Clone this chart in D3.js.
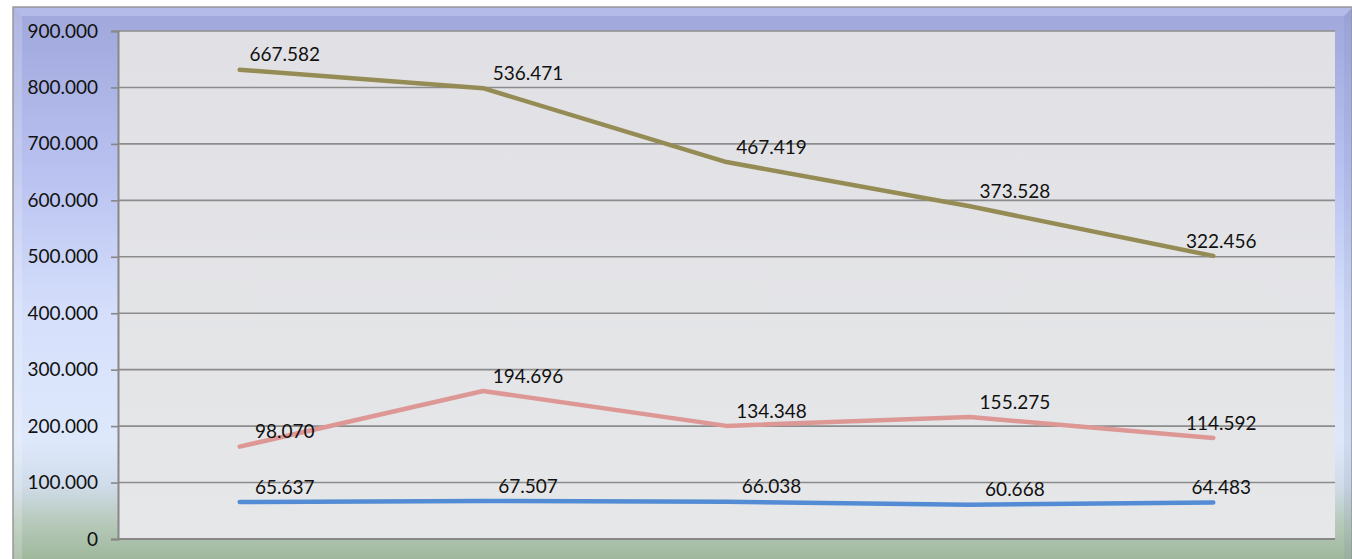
<!doctype html>
<html lang="en">

<head>
    <meta charset="UTF-8" />
    <title>Stacked Line</title>
    <script src="https://d3js.org/d3.v7.min.js"></script>
    <style>
        body,
        html {
            margin: 0;
            padding: 0;
            background: #ffffff;
            overflow: hidden;
        }

        svg {
            display: block;
        }

        text {
            font-family: Lato, "Open Sans", sans-serif;
            font-size: 19px;
            fill: #111;
        }
    </style>
</head>

<body>
    <svg id="chart" width="1352" height="559"></svg>
    <script>
        // categories have no visible labels on the chart
        const categories = ["1", "2", "3", "4", "5"];
        const seriesNames = ["blue", "red", "olive"];
        const blueValues = [65.637, 67.507, 66.038, 60.668, 64.483];
        const redValues = [98.070, 194.696, 134.348, 155.275, 114.592];
        const oliveValues = [667.582, 536.471, 467.419, 373.528, 322.456];
        const yTicks = [0, 100, 200, 300, 400, 500, 600, 700, 800, 900];

        const colors = ["#538cd5", "#dd9795", "#958b55"];

        const svg = d3.select("#chart");
        const width = 1352;
        const height = 559;
        const plot = { left: 118, right: 1335, top: 31, bottom: 539 };

        // outer frame gradient
        const defs = svg.append("defs");
        const bg = defs.append("linearGradient")
            .attr("id", "bg").attr("x1", 0).attr("y1", 0).attr("x2", 0).attr("y2", 1);
        [
            [0, "#9fa7db"],
            [0.28, "#b7c0ef"],
            [0.55, "#d5dffb"],
            [0.78, "#dee8fb"],
            [0.86, "#d0dcea"],
            [0.93, "#b6c9b9"],
            [1, "#9cb699"]
        ].forEach(([o, c]) => bg.append("stop").attr("offset", o).attr("stop-color", c));

        const pg = defs.append("linearGradient")
            .attr("id", "pg").attr("x1", 0).attr("y1", 0).attr("x2", 0).attr("y2", 1);
        pg.append("stop").attr("offset", 0).attr("stop-color", "#e1e1e5");
        pg.append("stop").attr("offset", 1).attr("stop-color", "#e6e7e9");

        svg.append("rect")
            .attr("x", 13).attr("y", 7)
            .attr("width", width - 13).attr("height", height - 7 + 4)
            .attr("fill", "url(#bg)")
            .attr("stroke", "#9a9a9a").attr("stroke-width", 1.5);

        // bevel highlights
        svg.append("path")
            .attr("d", `M14,8 L${width},8 L${width - 8},16 L22,16 Z`)
            .attr("fill", "#c4caf2").attr("opacity", 0.55);
        svg.append("path")
            .attr("d", `M14,8 L22,16 L22,${height} L14,${height} Z`)
            .attr("fill", "#ffffff").attr("opacity", 0.18);
        svg.append("path")
            .attr("d", `M${width},8 L${width - 8},16 L${width - 8},${height} L${width},${height} Z`)
            .attr("fill", "#6f78b0").attr("opacity", 0.12);

        svg.append("rect")
            .attr("x", plot.left).attr("y", plot.top)
            .attr("width", plot.right - plot.left).attr("height", plot.bottom - plot.top)
            .attr("fill", "url(#pg)");

        const x = d3.scaleBand()
            .domain(categories)
            .range([plot.left, plot.right]);

        const y = d3.scaleLinear()
            .domain([0, 900])
            .range([plot.bottom, plot.top]);

        // gridlines
        svg.append("g")
            .selectAll("line")
            .data(yTicks.filter(d => d > 0))
            .join("line")
            .attr("x1", plot.left).attr("x2", plot.right)
            .attr("y1", d => y(d)).attr("y2", d => y(d))
            .attr("stroke", "#8c8c8c").attr("stroke-width", 1.6);

        const fmt = d => d === 0 ? "0" : d3.format(".3f")(d);

        const yAxis = svg.append("g")
            .attr("transform", `translate(${plot.left},0)`)
            .call(d3.axisLeft(y).tickValues(yTicks).tickFormat(fmt).tickSize(7).tickPadding(13));
        yAxis.select(".domain").attr("stroke", "#878787").attr("stroke-width", 2);
        yAxis.selectAll(".tick line").attr("stroke", "#878787").attr("stroke-width", 1.6);
        yAxis.selectAll("text")
            .attr("fill", "#111")
            .style("font-family", "Lato, 'Open Sans', sans-serif")
            .style("font-size", "19px");

        svg.append("line")
            .attr("x1", plot.left).attr("x2", plot.right)
            .attr("y1", plot.bottom).attr("y2", plot.bottom)
            .attr("stroke", "#878787").attr("stroke-width", 2);

        // stacked lines
        const table = categories.map((c, i) => ({
            cat: c,
            blue: blueValues[i],
            red: redValues[i],
            olive: oliveValues[i]
        }));
        const stacked = d3.stack().keys(seriesNames)(table);

        const line = d3.line()
            .x((d, i) => x(categories[i]) + x.bandwidth() / 2)
            .y(d => y(d[1]));

        svg.append("g")
            .selectAll("path")
            .data(stacked)
            .join("path")
            .attr("d", line)
            .attr("fill", "none")
            .attr("stroke", (d, i) => colors[i])
            .attr("stroke-width", 4.5)
            .attr("stroke-linecap", "round")
            .attr("stroke-linejoin", "round");

        // data labels
        const labels = svg.append("g");
        stacked.forEach(s => {
            s.forEach((d, i) => {
                const cx = x(categories[i]) + x.bandwidth() / 2;
                const shift = i < categories.length - 1 ? 45 : 8;
                labels.append("text")
                    .attr("x", cx + shift)
                    .attr("y", y(d[1]) - 15)
                    .attr("dy", "0.35em")
                    .attr("text-anchor", "middle")
                    .text(d3.format(".3f")(d.data[s.key]));
            });
        });
    </script>
</body>

</html>
